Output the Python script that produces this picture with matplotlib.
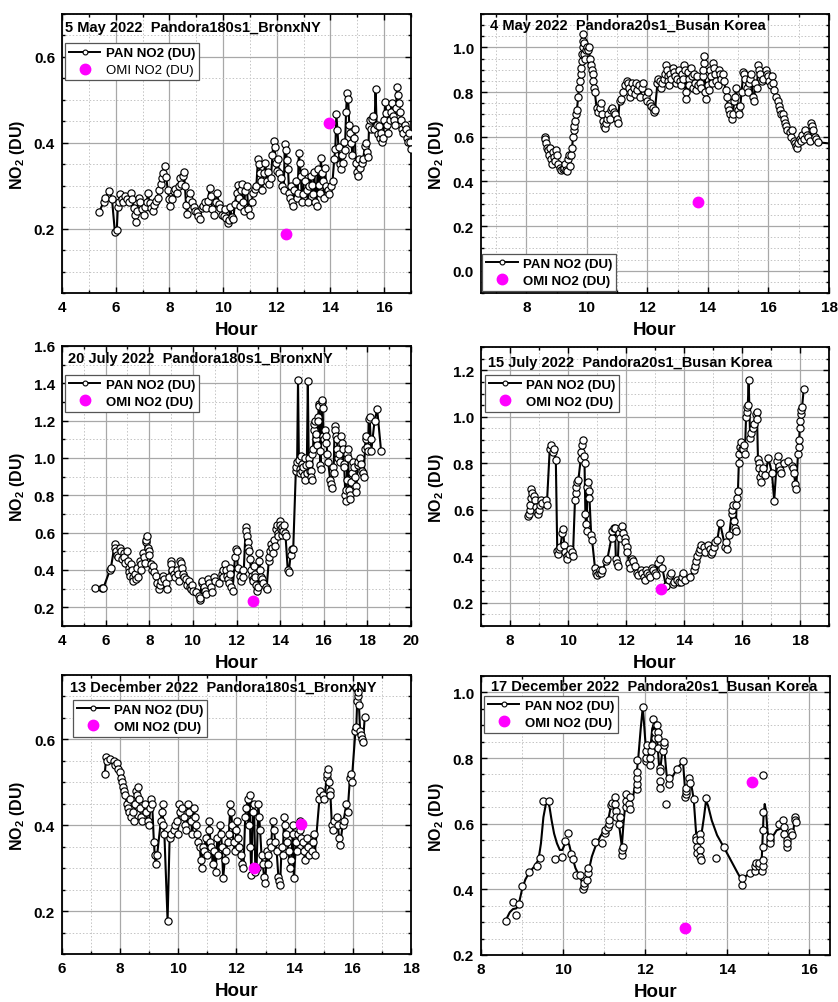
import numpy as np
import matplotlib
matplotlib.use("Agg")
import matplotlib.pyplot as plt
from matplotlib.ticker import MultipleLocator
from matplotlib.lines import Line2D

plt.rcParams['font.family'] = ['Liberation Sans', 'DejaVu Sans']
plt.rcParams['font.weight'] = 'bold'
plt.rcParams['mathtext.fontset'] = 'custom'
plt.rcParams['mathtext.rm'] = 'Liberation Sans:bold'
plt.rcParams['mathtext.bf'] = 'Liberation Sans:bold'

# ---------------- PAN (Pandora) NO2, (hour, DU) ----------------
pan_may_bronx = [
    (5.38,0.238),(5.55,0.262),(5.62,0.272),(5.75,0.287),(5.86,0.270),(5.97,0.192),(6.04,0.196),(6.08,0.250),(6.12,0.262),(6.16,0.280),
    (6.22,0.270),(6.28,0.262),(6.35,0.275),(6.42,0.268),(6.5,0.262),(6.58,0.282),(6.62,0.270),(6.68,0.248),(6.72,0.232),(6.76,0.215),
    (6.8,0.240),(6.86,0.272),(6.92,0.262),(6.98,0.245),(7.04,0.232),(7.1,0.250),(7.16,0.262),(7.2,0.282),(7.26,0.260),(7.32,0.248),
    (7.38,0.242),(7.44,0.255),(7.5,0.265),(7.56,0.272),(7.62,0.290),(7.68,0.305),(7.72,0.318),(7.76,0.330),(7.82,0.345),(7.88,0.320),
    (7.94,0.290),(8.0,0.268),(8.04,0.252),(8.1,0.270),(8.16,0.288),(8.22,0.292),(8.28,0.282),(8.34,0.300),(8.4,0.318),(8.44,0.305),
    (8.5,0.322),(8.54,0.332),(8.58,0.300),(8.62,0.255),(8.66,0.235),(8.72,0.268),(8.78,0.282),(8.84,0.262),(8.9,0.250),(8.96,0.242),
    (9.02,0.238),(9.08,0.230),(9.14,0.222),(9.2,0.248),(9.26,0.252),(9.32,0.262),(9.38,0.248),(9.44,0.265),(9.5,0.295),(9.54,0.275),
    (9.6,0.245),(9.66,0.232),(9.72,0.262),(9.78,0.282),(9.84,0.258),(9.9,0.248),(9.96,0.232),(10.02,0.230),(10.08,0.245),(10.12,0.225),
    (10.18,0.212),(10.22,0.220),(10.26,0.250),(10.32,0.228),(10.38,0.222),(10.44,0.258),(10.5,0.282),(10.54,0.302),(10.58,0.272),(10.62,0.252),
    (10.66,0.290),(10.7,0.305),(10.74,0.262),(10.78,0.242),(10.82,0.288),(10.88,0.300),(10.94,0.245),(11.0,0.232),(11.06,0.262),(11.12,0.282),
    (11.18,0.292),(11.24,0.300),(11.3,0.362),(11.34,0.350),(11.38,0.330),(11.42,0.310),(11.46,0.290),(11.52,0.330),(11.58,0.352),(11.62,0.312),
    (11.66,0.332),(11.72,0.305),(11.78,0.318),(11.84,0.372),(11.88,0.405),(11.92,0.390),(11.96,0.352),(12.0,0.335),(12.04,0.362),(12.08,0.330),
    (12.14,0.318),(12.2,0.300),(12.26,0.290),(12.3,0.398),(12.34,0.382),(12.38,0.360),(12.42,0.340),(12.46,0.282),(12.5,0.272),(12.54,0.300),
    (12.58,0.262),(12.62,0.252),(12.66,0.290),(12.7,0.310),(12.74,0.272),(12.78,0.282),(12.82,0.376),(12.86,0.352),(12.9,0.322),(12.94,0.262),
    (12.98,0.280),(13.02,0.332),(13.06,0.312),(13.12,0.290),(13.16,0.262),(13.2,0.300),(13.26,0.322),(13.3,0.302),(13.34,0.280),(13.4,0.332),
    (13.44,0.262),(13.48,0.252),(13.52,0.340),(13.56,0.302),(13.6,0.282),(13.64,0.365),(13.68,0.330),(13.72,0.310),(13.76,0.272),(13.8,0.342),
    (13.84,0.300),(13.9,0.290),(13.96,0.280),(14.02,0.300),(14.08,0.312),(14.14,0.362),(14.18,0.385),(14.22,0.467),(14.26,0.430),(14.3,0.390),
    (14.34,0.350),(14.38,0.338),(14.42,0.372),(14.46,0.352),(14.5,0.402),(14.54,0.382),(14.58,0.472),(14.62,0.515),(14.66,0.502),(14.7,0.442),
    (14.74,0.422),(14.78,0.400),(14.82,0.372),(14.86,0.412),(14.9,0.432),(14.94,0.352),(14.98,0.332),(15.02,0.322),(15.06,0.362),(15.1,0.342),
    (15.16,0.352),(15.22,0.362),(15.28,0.392),(15.32,0.400),(15.36,0.378),(15.4,0.368),(15.44,0.440),(15.48,0.452),(15.52,0.432),(15.56,0.455),
    (15.6,0.462),(15.64,0.432),(15.68,0.525),(15.72,0.442),(15.76,0.420),(15.8,0.440),(15.84,0.412),(15.88,0.422),(15.92,0.402),(15.96,0.412),
    (16.0,0.452),(16.04,0.494),(16.08,0.470),(16.12,0.442),(16.16,0.422),(16.2,0.452),(16.24,0.472),(16.28,0.492),(16.32,0.462),(16.36,0.452),
    (16.4,0.442),(16.44,0.482),(16.48,0.530),(16.52,0.512),(16.56,0.492),(16.6,0.472),(16.64,0.452),(16.68,0.432),(16.72,0.422),(16.76,0.442),
    (16.8,0.432),(16.84,0.412),(16.88,0.402),(16.92,0.422),(16.96,0.402),(17.0,0.385),
]

pan_may_busan = [
    (8.60,0.600),(8.62,0.590),(8.65,0.570),(8.68,0.550),(8.70,0.540),(8.74,0.520),(8.78,0.550),(8.82,0.500),(8.85,0.480),(8.88,0.530),
    (8.92,0.510),(8.95,0.490),(8.98,0.540),(9.02,0.520),(9.05,0.480),(9.10,0.460),(9.15,0.452),(9.20,0.455),(9.25,0.460),(9.28,0.480),
    (9.31,0.450),(9.34,0.445),(9.38,0.500),(9.41,0.520),(9.44,0.470),(9.48,0.520),(9.51,0.550),(9.54,0.600),(9.56,0.630),(9.58,0.650),
    (9.61,0.670),(9.64,0.700),(9.67,0.720),(9.71,0.780),(9.74,0.820),(9.76,0.850),(9.79,0.880),(9.81,0.910),(9.83,0.940),(9.85,0.970),
    (9.86,1.000),(9.87,1.030),(9.88,1.060),(9.90,1.020),(9.92,0.970),(9.94,0.950),(9.96,0.990),(10.0,1.000),(10.03,0.990),(10.06,1.000),
    (10.10,0.950),(10.13,0.920),(10.17,0.900),(10.19,0.880),(10.21,0.850),(10.23,0.820),(10.26,0.800),(10.32,0.730),(10.36,0.710),(10.42,0.730),
    (10.46,0.750),(10.50,0.700),(10.53,0.670),(10.56,0.650),(10.60,0.640),(10.64,0.660),(10.67,0.680),(10.71,0.700),(10.75,0.680),(10.80,0.720),
    (10.84,0.730),(10.88,0.710),(10.94,0.700),(10.98,0.680),(11.02,0.660),(11.08,0.760),(11.13,0.770),(11.20,0.800),(11.26,0.830),(11.32,0.850),
    (11.35,0.840),(11.38,0.820),(11.41,0.780),(11.46,0.800),(11.50,0.840),(11.55,0.820),(11.58,0.790),(11.63,0.840),(11.67,0.810),(11.72,0.830),
    (11.76,0.780),(11.82,0.820),(11.86,0.840),(11.95,0.780),(11.98,0.760),(12.02,0.800),(12.07,0.750),(12.12,0.740),(12.18,0.730),(12.21,0.710),
    (12.25,0.720),(12.33,0.840),(12.36,0.860),(12.40,0.850),(12.45,0.820),(12.49,0.840),(12.54,0.860),(12.58,0.880),(12.63,0.920),(12.65,0.900),
    (12.67,0.870),(12.69,0.850),(12.71,0.830),(12.75,0.880),(12.79,0.860),(12.84,0.910),(12.87,0.890),(12.90,0.870),(12.95,0.840),(12.99,0.860),
    (13.04,0.900),(13.07,0.850),(13.10,0.830),(13.14,0.880),(13.17,0.860),(13.21,0.920),(13.23,0.900),(13.26,0.800),(13.28,0.770),(13.33,0.890),
    (13.36,0.860),(13.39,0.830),(13.44,0.910),(13.47,0.870),(13.50,0.820),(13.54,0.880),(13.57,0.840),(13.60,0.810),(13.64,0.870),(13.68,0.830),
    (13.74,0.840),(13.78,0.820),(13.83,0.870),(13.85,0.900),(13.87,0.930),(13.88,0.960),(13.91,0.800),(13.94,0.770),(13.99,0.830),(14.03,0.810),
    (14.08,0.900),(14.11,0.870),(14.14,0.840),(14.18,0.930),(14.21,0.910),(14.24,0.880),(14.28,0.850),(14.32,0.830),(14.38,0.900),(14.41,0.880),
    (14.44,0.860),(14.49,0.880),(14.53,0.850),(14.58,0.810),(14.62,0.780),(14.66,0.740),(14.69,0.720),(14.72,0.700),(14.78,0.680),(14.82,0.700),
    (14.87,0.760),(14.90,0.780),(14.93,0.820),(14.98,0.720),(15.02,0.700),(15.07,0.740),(15.11,0.800),(15.17,0.890),(15.20,0.880),(15.23,0.860),
    (15.28,0.820),(15.32,0.800),(15.37,0.840),(15.40,0.860),(15.43,0.880),(15.48,0.780),(15.52,0.760),(15.57,0.840),(15.61,0.820),(15.67,0.920),
    (15.70,0.900),(15.73,0.880),(15.78,0.850),(15.82,0.860),(15.92,0.900),(15.95,0.880),(15.98,0.870),(16.03,0.850),(16.07,0.830),(16.12,0.870),
    (16.15,0.840),(16.18,0.810),(16.26,0.780),(16.30,0.760),(16.36,0.740),(16.39,0.720),(16.42,0.700),(16.47,0.700),(16.50,0.680),(16.53,0.660),
    (16.58,0.650),(16.62,0.630),(16.70,0.620),(16.74,0.600),(16.78,0.630),(16.83,0.580),(16.87,0.570),(16.92,0.560),(16.95,0.550),(16.98,0.570),
    (17.03,0.590),(17.07,0.580),(17.12,0.610),(17.16,0.590),(17.22,0.630),(17.26,0.610),(17.32,0.600),(17.36,0.580),(17.42,0.660),(17.45,0.650),
    (17.48,0.630),(17.53,0.600),(17.57,0.590),(17.64,0.575),(18.40,0.565),
]

pan_jul_bronx = [
    (5.50,0.305),(5.85,0.305),(5.90,0.305),(6.20,0.400),(6.24,0.410),(6.42,0.540),(6.45,0.520),(6.48,0.500),(6.53,0.480),(6.57,0.470),
    (6.66,0.520),(6.69,0.500),(6.73,0.460),(6.82,0.490),(6.86,0.470),(6.89,0.440),(6.97,0.500),(7.01,0.450),(7.05,0.410),(7.09,0.390),
    (7.13,0.370),(7.18,0.430),(7.21,0.400),(7.24,0.360),(7.27,0.340),(7.33,0.380),(7.37,0.350),(7.43,0.410),(7.47,0.360),(7.56,0.450),
    (7.60,0.430),(7.64,0.400),(7.72,0.490),(7.76,0.470),(7.79,0.440),(7.84,0.550),(7.87,0.560),(7.90,0.580),(7.93,0.520),(7.97,0.500),
    (8.00,0.480),(8.08,0.430),(8.12,0.400),(8.18,0.420),(8.22,0.390),(8.32,0.370),(8.37,0.330),(8.46,0.300),(8.50,0.320),(8.54,0.340),
    (8.62,0.370),(8.67,0.350),(8.77,0.330),(8.82,0.300),(8.90,0.360),(8.98,0.450),(9.02,0.430),(9.06,0.400),(9.13,0.380),(9.17,0.360),
    (9.27,0.400),(9.31,0.380),(9.35,0.340),(9.42,0.450),(9.45,0.440),(9.49,0.410),(9.53,0.380),(9.58,0.360),(9.67,0.350),(9.72,0.320),
    (9.82,0.340),(9.86,0.310),(9.90,0.300),(9.97,0.320),(10.02,0.290),(10.14,0.280),(10.27,0.260),(10.31,0.240),(10.34,0.250),(10.40,0.330),
    (10.44,0.340),(10.52,0.310),(10.56,0.290),(10.60,0.270),(10.68,0.350),(10.72,0.330),(10.82,0.310),(10.87,0.280),(10.98,0.360),(11.02,0.340),
    (11.18,0.330),(11.32,0.380),(11.36,0.400),(11.40,0.360),(11.47,0.430),(11.51,0.400),(11.55,0.370),(11.60,0.350),(11.64,0.330),(11.68,0.410),
    (11.72,0.380),(11.76,0.310),(11.82,0.290),(11.93,0.470),(11.97,0.510),(12.01,0.500),(12.06,0.410),(12.18,0.370),(12.22,0.340),(12.28,0.400),
    (12.32,0.360),(12.42,0.630),(12.45,0.610),(12.48,0.580),(12.51,0.550),(12.55,0.520),(12.58,0.500),(12.62,0.460),(12.66,0.400),(12.70,0.370),
    (12.74,0.350),(12.77,0.340),(12.80,0.420),(12.84,0.380),(12.87,0.360),(12.90,0.320),(12.94,0.290),(12.98,0.310),(13.01,0.450),(13.04,0.490),
    (13.09,0.400),(13.13,0.360),(13.18,0.350),(13.22,0.330),(13.33,0.310),(13.38,0.300),(13.48,0.450),(13.51,0.470),(13.54,0.500),(13.58,0.540),
    (13.62,0.520),(13.66,0.490),(13.73,0.560),(13.77,0.530),(13.83,0.620),(13.86,0.640),(13.89,0.600),(13.92,0.580),(13.98,0.660),(14.01,0.640),
    (14.04,0.620),(14.07,0.590),(14.10,0.630),(14.13,0.610),(14.18,0.640),(14.21,0.600),(14.25,0.580),(14.35,0.400),(14.40,0.390),(14.48,0.480),
    (14.53,0.510),(14.60,0.510),(14.72,0.930),(14.75,0.950),(14.78,0.980),(14.82,1.416),(14.86,0.990),(14.89,0.940),(14.92,0.920),(14.96,1.010),
    (14.99,0.970),(15.02,0.930),(15.06,0.950),(15.09,0.910),(15.12,0.880),(15.16,1.000),(15.19,0.960),(15.22,0.920),(15.27,1.410),(15.31,1.000),
    (15.34,0.970),(15.37,0.930),(15.40,0.930),(15.43,0.900),(15.46,0.880),(15.48,1.020),(15.51,1.050),(15.54,1.150),(15.57,1.180),(15.60,1.200),
    (15.63,1.100),(15.66,1.130),(15.69,1.070),(15.72,1.220),(15.74,1.200),(15.77,1.290),(15.79,1.280),(15.82,1.040),(15.84,0.960),(15.86,0.940),
    (15.90,1.300),(15.93,1.310),(15.95,1.270),(15.98,1.120),(16.01,1.100),(16.06,1.150),(16.09,1.120),(16.12,1.080),(16.17,1.020),(16.20,0.980),
    (16.30,0.880),(16.33,0.860),(16.36,0.840),(16.42,0.950),(16.45,0.920),(16.50,1.170),(16.53,1.150),(16.56,1.120),(16.60,1.100),(16.63,1.050),
    (16.66,1.000),(16.71,1.020),(16.74,0.980),(16.80,1.120),(16.83,1.080),(16.86,1.050),(16.91,0.970),(16.94,0.950),(16.99,0.800),(17.02,0.770),
    (17.04,0.830),(17.06,0.880),(17.08,1.020),(17.10,1.050),(17.12,1.000),(17.16,0.830),(17.19,0.800),(17.22,0.780),(17.27,0.870),(17.30,0.920),
    (17.35,0.980),(17.38,0.950),(17.41,0.900),(17.46,0.850),(17.49,0.820),(17.55,0.960),(17.58,0.980),(17.68,1.000),(17.71,0.970),(17.74,0.930),
    (17.80,0.920),(17.83,0.900),(17.89,1.050),(17.92,1.100),(17.95,1.120),(18.00,1.060),(18.03,1.040),(18.07,1.210),(18.10,1.220),(18.15,1.100),
    (18.18,1.040),(18.33,1.200),(18.45,1.260),(18.63,1.035),
]

pan_jul_busan = [
    (8.63,0.574),(8.65,0.580),(8.68,0.600),(8.70,0.620),(8.72,0.650),(8.74,0.690),(8.77,0.670),(8.82,0.660),(8.85,0.640),(8.88,0.610),
    (8.92,0.590),(8.95,0.580),(9.00,0.600),(9.03,0.620),(9.06,0.640),(9.12,0.630),(9.24,0.640),(9.27,0.620),(9.37,0.860),(9.41,0.880),
    (9.48,0.850),(9.52,0.860),(9.58,0.814),(9.63,0.423),(9.66,0.410),(9.70,0.430),(9.74,0.440),(9.80,0.500),(9.83,0.516),(9.87,0.450),
    (9.90,0.420),(9.95,0.400),(9.98,0.390),(10.05,0.410),(10.08,0.430),(10.14,0.420),(10.17,0.400),(10.24,0.640),(10.26,0.670),(10.28,0.700),
    (10.30,0.720),(10.36,0.730),(10.44,0.820),(10.46,0.850),(10.48,0.880),(10.50,0.900),(10.54,0.830),(10.57,0.800),(10.60,0.580),(10.62,0.540),
    (10.64,0.510),(10.67,0.700),(10.70,0.720),(10.72,0.680),(10.74,0.650),(10.80,0.490),(10.83,0.470),(10.93,0.350),(10.96,0.330),(10.99,0.320),
    (11.06,0.330),(11.09,0.340),(11.15,0.330),(11.18,0.340),(11.32,0.380),(11.36,0.390),(11.50,0.480),(11.53,0.510),(11.58,0.520),(11.62,0.520),
    (11.65,0.390),(11.68,0.370),(11.71,0.360),(11.76,0.500),(11.79,0.480),(11.84,0.520),(11.87,0.530),(11.90,0.500),(11.95,0.480),(11.98,0.460),
    (12.02,0.440),(12.05,0.420),(12.10,0.370),(12.13,0.350),(12.19,0.390),(12.23,0.380),(12.30,0.360),(12.38,0.330),(12.42,0.320),(12.50,0.340),
    (12.54,0.330),(12.61,0.310),(12.64,0.300),(12.70,0.340),(12.74,0.330),(12.80,0.320),(12.84,0.310),(12.90,0.350),(12.94,0.340),(13.00,0.330),
    (13.04,0.320),(13.12,0.370),(13.17,0.387),(13.25,0.350),(13.38,0.270),(13.48,0.300),(13.52,0.320),(13.56,0.330),(13.62,0.280),(13.66,0.290),
    (13.76,0.300),(13.84,0.290),(13.88,0.290),(13.94,0.310),(13.98,0.330),(14.05,0.300),(14.20,0.310),(14.33,0.340),(14.37,0.360),(14.41,0.380),
    (14.46,0.400),(14.50,0.420),(14.55,0.430),(14.59,0.450),(14.70,0.440),(14.74,0.420),(14.84,0.450),(14.88,0.430),(14.94,0.410),(14.98,0.420),
    (15.04,0.440),(15.08,0.460),(15.15,0.470),(15.24,0.545),(15.42,0.440),(15.45,0.460),(15.48,0.430),(15.56,0.490),(15.64,0.580),(15.67,0.600),
    (15.70,0.620),(15.73,0.550),(15.76,0.520),(15.79,0.510),(15.81,0.620),(15.84,0.650),(15.86,0.680),(15.89,0.800),(15.91,0.840),(15.93,0.870),
    (15.96,0.890),(15.99,0.860),(16.04,0.860),(16.07,0.880),(16.10,0.840),(16.14,1.000),(16.16,1.020),(16.18,1.040),(16.20,1.050),(16.23,1.157),
    (16.28,0.910),(16.31,0.930),(16.38,0.950),(16.41,0.970),(16.47,1.010),(16.50,1.020),(16.52,0.990),(16.55,0.820),(16.57,0.800),(16.59,0.780),
    (16.62,0.740),(16.65,0.720),(16.70,0.760),(16.74,0.780),(16.80,0.750),(16.91,0.821),(17.03,0.760),(17.11,0.639),(17.20,0.810),(17.23,0.830),
    (17.28,0.790),(17.31,0.770),(17.34,0.760),(17.45,0.800),(17.60,0.810),(17.73,0.790),(17.76,0.780),(17.79,0.760),(17.84,0.710),(17.87,0.690),
    (17.93,0.840),(17.95,0.870),(17.97,0.900),(17.99,0.950),(18.01,0.980),(18.03,1.010),(18.05,1.030),(18.07,1.040),(18.13,1.120),
]

pan_dec_bronx = [
    (7.47,0.519),(7.52,0.560),(7.55,0.550),(7.66,0.555),(7.78,0.550),(7.81,0.540),(7.90,0.545),(7.93,0.530),(8.00,0.525),(8.03,0.510),
    (8.06,0.500),(8.10,0.490),(8.13,0.480),(8.16,0.470),(8.24,0.450),(8.27,0.440),(8.30,0.430),(8.35,0.460),(8.38,0.420),(8.44,0.430),
    (8.47,0.410),(8.52,0.450),(8.55,0.480),(8.58,0.470),(8.62,0.490),(8.65,0.460),(8.68,0.440),(8.72,0.420),(8.75,0.410),(8.84,0.450),
    (8.88,0.430),(8.94,0.410),(8.98,0.400),(9.04,0.440),(9.07,0.460),(9.10,0.450),(9.16,0.360),(9.19,0.330),(9.22,0.310),(9.27,0.330),
    (9.40,0.410),(9.43,0.430),(9.46,0.450),(9.48,0.400),(9.52,0.380),(9.63,0.178),(9.70,0.370),(9.74,0.380),(9.84,0.390),(9.88,0.400),
    (9.94,0.410),(9.98,0.380),(10.04,0.450),(10.07,0.430),(10.14,0.440),(10.18,0.420),(10.24,0.400),(10.28,0.390),(10.34,0.450),(10.38,0.430),
    (10.44,0.410),(10.48,0.380),(10.54,0.440),(10.57,0.420),(10.60,0.400),(10.64,0.380),(10.68,0.360),(10.74,0.350),(10.77,0.320),(10.80,0.300),
    (10.85,0.350),(10.89,0.340),(10.94,0.370),(10.98,0.330),(11.04,0.390),(11.07,0.410),(11.10,0.360),(11.14,0.350),(11.18,0.310),(11.24,0.340),
    (11.28,0.290),(11.34,0.370),(11.38,0.330),(11.44,0.400),(11.47,0.380),(11.50,0.350),(11.54,0.277),(11.60,0.320),(11.64,0.340),(11.70,0.360),
    (11.74,0.380),(11.79,0.450),(11.82,0.430),(11.85,0.400),(11.90,0.360),(11.94,0.340),(12.00,0.390),(12.03,0.410),(12.06,0.370),(12.10,0.350),
    (12.14,0.330),(12.20,0.310),(12.24,0.300),(12.30,0.420),(12.34,0.440),(12.38,0.460),(12.42,0.400),(12.45,0.470),(12.48,0.350),(12.51,0.283),
    (12.56,0.430),(12.60,0.450),(12.65,0.290),(12.69,0.300),(12.75,0.450),(12.78,0.420),(12.81,0.390),(12.86,0.330),(12.90,0.310),(12.95,0.280),
    (12.99,0.266),(13.04,0.340),(13.07,0.330),(13.10,0.310),(13.15,0.360),(13.19,0.350),(13.24,0.410),(13.28,0.390),(13.34,0.360),(13.38,0.340),
    (13.44,0.280),(13.47,0.270),(13.50,0.260),(13.55,0.350),(13.59,0.330),(13.64,0.420),(13.67,0.400),(13.70,0.380),(13.75,0.360),(13.79,0.340),
    (13.84,0.300),(13.88,0.320),(13.93,0.380),(13.95,0.400),(13.97,0.277),(14.05,0.360),(14.08,0.340),(14.11,0.380),(14.17,0.410),(14.20,0.390),
    (14.23,0.370),(14.28,0.360),(14.32,0.340),(14.35,0.320),(14.43,0.370),(14.47,0.350),(14.51,0.330),(14.58,0.340),(14.62,0.360),(14.66,0.380),
    (14.69,0.330),(14.85,0.460),(14.88,0.480),(14.98,0.470),(15.02,0.460),(15.10,0.510),(15.12,0.520),(15.14,0.530),(15.17,0.500),(15.20,0.480),
    (15.23,0.470),(15.28,0.400),(15.31,0.390),(15.34,0.410),(15.44,0.420),(15.48,0.400),(15.53,0.370),(15.56,0.353),(15.65,0.400),(15.68,0.410),
    (15.78,0.450),(15.82,0.430),(15.90,0.510),(15.93,0.520),(15.96,0.500),(16.09,0.620),(16.12,0.630),(16.15,0.690),(16.17,0.700),(16.19,0.710),
    (16.21,0.680),(16.25,0.620),(16.28,0.610),(16.32,0.600),(16.35,0.594),(16.41,0.652),
]

pan_dec_busan = [
    (8.61,0.303),(8.78,0.362),(8.86,0.323),(8.93,0.354),(9.01,0.409),(9.18,0.453),(9.36,0.472),(9.44,0.497),(9.51,0.669),(9.65,0.669),
    (9.80,0.493),(9.97,0.498),(10.04,0.548),(10.12,0.571),(10.19,0.508),(10.24,0.493),(10.31,0.444),(10.42,0.444),(10.49,0.400),(10.50,0.410),
    (10.51,0.420),(10.58,0.430),(10.60,0.450),(10.61,0.465),(10.77,0.545),(10.95,0.540),(11.02,0.573),(11.03,0.580),(11.10,0.590),(11.11,0.600),
    (11.12,0.610),(11.17,0.656),(11.18,0.664),(11.26,0.680),(11.27,0.660),(11.28,0.640),(11.29,0.620),(11.36,0.600),(11.38,0.620),(11.44,0.505),
    (11.44,0.520),(11.45,0.530),(11.52,0.650),(11.53,0.670),(11.54,0.690),(11.61,0.660),(11.62,0.680),(11.63,0.646),(11.79,0.705),(11.80,0.720),
    (11.80,0.740),(11.80,0.758),(11.81,0.793),(11.94,0.955),(12.01,0.790),(12.02,0.800),(12.03,0.820),(12.04,0.840),(12.11,0.780),(12.12,0.800),
    (12.15,0.820),(12.16,0.840),(12.18,0.919),(12.23,0.860),(12.24,0.880),(12.25,0.900),(12.29,0.900),(12.30,0.880),(12.31,0.860),(12.32,0.830),
    (12.35,0.770),(12.35,0.760),(12.36,0.730),(12.36,0.710),(12.44,0.820),(12.45,0.840),(12.46,0.850),(12.51,0.659),(12.58,0.720),(12.59,0.740),
    (12.77,0.766),(12.92,0.790),(12.98,0.680),(12.99,0.690),(12.99,0.700),(13.00,0.710),(13.07,0.740),(13.08,0.725),(13.18,0.674),(13.24,0.560),
    (13.24,0.550),(13.25,0.530),(13.25,0.510),(13.33,0.570),(13.33,0.550),(13.34,0.520),(13.34,0.500),(13.35,0.490),(13.48,0.679),(13.73,0.495),
    (13.92,0.530),(14.35,0.414),(14.36,0.434),(14.56,0.450),(14.67,0.455),(14.68,0.470),(14.69,0.480),(14.77,0.470),(14.78,0.480),(14.85,0.455),
    (14.86,0.470),(14.86,0.490),(14.87,0.530),(14.87,0.580),(14.88,0.635),(14.88,0.747),(15.03,0.550),(15.04,0.540),(15.05,0.560),(15.27,0.600),
    (15.36,0.610),(15.37,0.590),(15.38,0.570),(15.45,0.530),(15.45,0.550),(15.46,0.540),(15.56,0.575),(15.57,0.565),(15.64,0.620),(15.65,0.610),
    (15.66,0.605),
]

# smoothed PAN trace for 17 Dec (Busan), drawn as the connecting curve
pan_dec_busan_curve = [
    (8.6,0.305),(8.7,0.33),(8.78,0.34),(8.86,0.342),(8.92,0.355),(9.0,0.40),(9.08,0.43),(9.18,0.452),(9.3,0.47),(9.4,0.49),
    (9.46,0.54),(9.52,0.62),(9.58,0.66),(9.63,0.667),(9.67,0.65),(9.72,0.61),(9.78,0.57),(9.85,0.54),(9.92,0.52),(9.98,0.52),
    (10.05,0.54),(10.1,0.548),(10.15,0.535),(10.22,0.50),(10.3,0.465),(10.38,0.445),(10.45,0.425),(10.5,0.405),(10.55,0.42),(10.62,0.455),
    (10.7,0.50),(10.8,0.535),(10.9,0.56),(11.0,0.58),(11.08,0.60),(11.15,0.645),(11.22,0.665),(11.27,0.66),(11.32,0.62),(11.38,0.58),
    (11.43,0.53),(11.47,0.60),(11.52,0.665),(11.57,0.685),(11.63,0.66),(11.7,0.68),(11.77,0.73),(11.83,0.80),(11.89,0.89),(11.94,0.955),
    (11.98,0.89),(12.02,0.82),(12.07,0.80),(12.12,0.82),(12.17,0.89),(12.2,0.90),(12.23,0.86),(12.27,0.88),(12.3,0.84),(12.34,0.77),
    (12.38,0.78),(12.43,0.84),(12.47,0.82),(12.52,0.75),(12.58,0.73),(12.65,0.74),(12.75,0.762),(12.85,0.78),(12.92,0.79),(12.96,0.72),
    (13.0,0.70),(13.06,0.735),(13.12,0.72),(13.18,0.675),(13.24,0.57),(13.3,0.545),(13.36,0.56),(13.43,0.62),(13.48,0.67),(13.53,0.655),
    (13.62,0.61),(13.75,0.565),(13.95,0.52),(14.1,0.485),(14.25,0.45),(14.35,0.428),(14.45,0.44),(14.56,0.452),(14.68,0.462),(14.78,0.472),
    (14.84,0.50),(14.88,0.62),(14.91,0.66),(14.94,0.64),(14.98,0.575),(15.03,0.55),(15.1,0.56),(15.2,0.58),(15.3,0.585),(15.37,0.59),
    (15.42,0.56),(15.47,0.54),(15.53,0.555),(15.6,0.57),(15.65,0.625),
]

# ---------------- OMI overpass NO2, (hour, DU) ----------------
omi_may_bronx = [(12.33, 0.188), (13.94, 0.446)]
omi_may_busan = [(13.66, 0.306)]
omi_jul_bronx = [(12.77, 0.232)]
omi_jul_busan = [(13.22, 0.260)]
omi_dec_bronx = [(12.59, 0.301), (14.23, 0.403)]
omi_dec_busan = [(12.97, 0.283), (14.60, 0.727)]

titles = [
    "5 May 2022  Pandora180s1_BronxNY",
    "4 May 2022  Pandora20s1_Busan Korea",
    "20 July 2022  Pandora180s1_BronxNY",
    "15 July 2022  Pandora20s1_Busan Korea",
    "13 December 2022  Pandora180s1_BronxNY",
    "17 December 2022  Pandora20s1_Busan Korea",
]

panels = [
    dict(pan=pan_may_bronx, omi=omi_may_bronx, curve=None,
         rect=(62, 15, 349, 279), xlim=(4, 17), ylim=(0.05, 0.70), ymaj=0.2, ymin=0.05,
         title_xy=(0.010, 0.953), leg=('upper left', (0.008, 0.895)), omi_bold=False),
    dict(pan=pan_may_busan, omi=omi_may_busan, curve=None,
         rect=(481, 15, 348, 279), xlim=(6.5, 18), ylim=(-0.1, 1.15), ymaj=0.2, ymin=0.05,
         title_xy=(0.026, 0.960), leg=('lower left', (0.003, 0.008)), omi_bold=True),
    dict(pan=pan_jul_bronx, omi=omi_jul_bronx, curve=None,
         rect=(62, 347, 349, 280), xlim=(4, 20), ylim=(0.1, 1.6), ymaj=0.2, ymin=0.1,
         title_xy=(0.018, 0.957), leg=('upper left', (0.008, 0.898)), omi_bold=True),
    dict(pan=pan_jul_busan, omi=omi_jul_busan, curve=None,
         rect=(481, 348, 348, 279), xlim=(7, 19), ylim=(0.1, 1.3), ymaj=0.2, ymin=0.05,
         title_xy=(0.020, 0.946), leg=('upper left', (0.012, 0.900)), omi_bold=True),
    dict(pan=pan_dec_bronx, omi=omi_dec_bronx, curve=None,
         rect=(62, 676, 349, 279), xlim=(6, 18), ylim=(0.1, 0.75), ymaj=0.2, ymin=0.05,
         title_xy=(0.023, 0.957), leg=('upper left', (0.032, 0.912)), omi_bold=True),
    dict(pan=pan_dec_busan, omi=omi_dec_busan, curve=pan_dec_busan_curve,
         rect=(481, 677, 349, 279), xlim=(8, 16.5), ylim=(0.2, 1.05), ymaj=0.2, ymin=0.05,
         title_xy=(0.030, 0.964), leg=('upper left', (0.008, 0.930)), omi_bold=True),
]

W, H = 838, 1003
fig = plt.figure(figsize=(W / 100, H / 100), dpi=100)

mk = dict(marker='o', ms=5.2, mfc='white', mec='black', mew=0.85)

for title, p in zip(titles, panels):
    x0, y0, w, h = p['rect']
    ax = fig.add_axes([x0 / W, 1 - (y0 + h) / H, w / W, h / H])

    ph, pv = np.array(p['pan']).T
    oh, ov = np.array(p['omi']).T

    if p['curve'] is None:
        ax.plot(ph, pv, color='black', lw=1.5, zorder=3, **mk)
    else:
        ch, cv = np.array(p['curve']).T
        ax.plot(ch, cv, color='black', lw=1.5, zorder=3)
        ax.plot(ph, pv, ls='none', zorder=4, **mk)
    ax.plot(oh, ov, ls='none', marker='o', ms=7.5, color='#ff00ff',
            mec='#ff00ff', zorder=5)

    ax.set_xlim(*p['xlim'])
    ax.set_ylim(*p['ylim'])
    ax.xaxis.set_major_locator(MultipleLocator(2))
    ax.xaxis.set_minor_locator(MultipleLocator(1))
    ax.yaxis.set_major_locator(MultipleLocator(p['ymaj']))
    ax.yaxis.set_minor_locator(MultipleLocator(p['ymin']))
    ax.yaxis.set_major_formatter(plt.FormatStrFormatter('%.1f'))

    ax.grid(which='major', color='#a8a8a8', lw=0.9, ls='-', zorder=0)
    ax.grid(which='minor', color='#c4c4c4', lw=0.7, ls=(0, (1.5, 2)), zorder=0)
    ax.set_axisbelow(True)

    ax.tick_params(which='both', direction='in', top=True, right=True,
                   labelsize=11, width=1.0, pad=5)
    ax.tick_params(which='major', length=4.5)
    ax.tick_params(which='minor', length=2.5)
    for s in ax.spines.values():
        s.set_linewidth(1.3)

    ax.set_xlabel('Hour', fontsize=13.5, fontweight='bold', labelpad=5)
    ax.set_ylabel(r'NO$_\mathbf{2}$ (DU)', fontsize=11.5, fontweight='bold', labelpad=5)

    ax.text(p['title_xy'][0], p['title_xy'][1], title, transform=ax.transAxes,
            fontsize=10.5, fontweight='bold', ha='left', va='center', zorder=6)

    handles = [
        Line2D([], [], color='black', lw=1.4, marker='o', ms=3.5, mfc='white',
               mec='black', mew=0.8, markevery=[1]),
        Line2D([], [], ls='none', marker='o', ms=7.5, color='#ff00ff'),
    ]
    leg = ax.legend(handles, ['PAN NO2 (DU)', 'OMI NO2 (DU)'],
                    loc=p['leg'][0], bbox_to_anchor=p['leg'][1],
                    fontsize=9.5, frameon=True, fancybox=False, framealpha=1,
                    edgecolor='#555555', handlelength=2.4, handletextpad=0.4,
                    borderpad=0.3, labelspacing=0.35, borderaxespad=0.0)
    leg.get_frame().set_linewidth(0.9)
    leg.set_zorder(7)
    if not p['omi_bold']:
        leg.get_texts()[1].set_fontweight('normal')

fig.savefig('out.png', dpi=100)
